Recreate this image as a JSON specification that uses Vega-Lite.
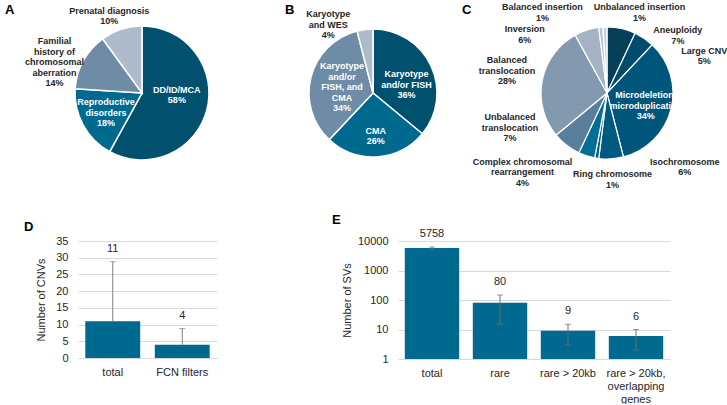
{
"$schema":"https://vega.github.io/schema/vega-lite/v6.json",
"autosize":{"type":"pad"},
"padding":{"left":5,"top":0,"right":0,"bottom":0},
"config":{"view":{"stroke":null},"text":{"font":"Liberation Sans","fontSize":9,"fontWeight":"bold","lineBreak":"\n","lineHeight":10.5},"title":{"font":"Liberation Sans","fontSize":13,"fontWeight":"bold","color":"black","anchor":"start","frame":"group"},"axis":{"labelFont":"Liberation Sans","titleFont":"Liberation Sans","labelColor":"#262626","titleColor":"#262626","labelFontSize":11,"titleFontSize":11,"titleFontWeight":"normal"},"axisY":{"grid":true,"gridColor":"#d9d9d9","gridWidth":1,"domain":false,"ticks":false,"labelPadding":10,"labelOverlap":false}},
"datasets":{
"pieA":[{"ord":1,"cat":"DD/ID/MCA","pct":58,"label":"DD/ID/MCA\n58%"},{"ord":2,"cat":"Reproductive disorders","pct":18,"label":"Reproductive\ndisorders\n18%"},{"ord":3,"cat":"Familial history of chromosomal aberration","pct":14,"label":"Familial\nhistory of\nchromosomal\naberration\n14%"},{"ord":4,"cat":"Prenatal diagnosis","pct":10,"label":"Prenatal diagnosis\n10%"}],
"pieB":[{"ord":1,"cat":"Karyotype and/or FISH","pct":36,"label":"Karyotype\nand/or FISH\n36%"},{"ord":2,"cat":"CMA","pct":26,"label":"CMA\n26%"},{"ord":3,"cat":"Karyotype and/or FISH, and CMA","pct":34,"label":"Karyotype\nand/or\nFISH, and\nCMA\n34%"},{"ord":4,"cat":"Karyotype and WES","pct":4,"label":"Karyotype\nand WES\n4%"}],
"pieC":[{"ord":1,"cat":"Aneuploidy","pct":7,"label":"Aneuploidy\n7%"},{"ord":2,"cat":"Large CNV","pct":5,"label":"Large CNV\n5%"},{"ord":3,"cat":"Microdeletion/microduplication","pct":34,"label":"Microdeletion/\nmicroduplication\n34%"},{"ord":4,"cat":"Isochromosome","pct":6,"label":"Isochromosome\n6%"},{"ord":5,"cat":"Ring chromosome","pct":1,"label":"Ring chromosome\n1%"},{"ord":6,"cat":"Complex chromosomal rearrangement","pct":4,"label":"Complex chromosomal\nrearrangement\n4%"},{"ord":7,"cat":"Unbalanced translocation","pct":7,"label":"Unbalanced\ntranslocation\n7%"},{"ord":8,"cat":"Balanced translocation","pct":28,"label":"Balanced\ntranslocation\n28%"},{"ord":9,"cat":"Inversion","pct":6,"label":"Inversion\n6%"},{"ord":10,"cat":"Balanced insertion","pct":1,"label":"Balanced insertion\n1%"},{"ord":11,"cat":"Unbalanced insertion","pct":1,"label":"Unbalanced insertion\n1%"}],
"barD":[{"cat":"total","v":11,"hi":28.8},{"cat":"FCN filters","v":4,"hi":8.8}],
"barE":[{"cat":"total","v":5758,"lo":5250,"hi":6300},{"cat":"rare","v":80,"lo":15,"hi":148},{"cat":"rare > 20kb","v":9,"lo":3,"hi":15},{"cat":"rare > 20kb, overlapping genes","v":6,"lo":2,"hi":10}]
},
"resolve":{"scale":{"color":"independent"}},
"spacing":23,
"vconcat":[
{"hconcat":[
{"width":128,"height":186,"data":{"name":"pieA"},
 "title":{"text":"A","dx":-73,"offset":-17},
 "encoding":{"theta":{"field":"pct","type":"quantitative","stack":true},"order":{"field":"ord","type":"quantitative"}},
 "layer":[
  {"mark":{"type":"arc","outerRadius":67,"stroke":"white","strokeWidth":1.5},"encoding":{"color":{"field":"cat","type":"nominal","legend":null,"scale":{"domain":["DD/ID/MCA","Reproductive disorders","Familial history of chromosomal aberration","Prenatal diagnosis"],"range":["#00506e","#006a8e","#6e8ca6","#adbbca"]}}}},
  {"mark":{"type":"text","radius":36,"dy":-12,"color":"white"},"encoding":{"text":{"condition":{"test":"datum.cat === 'DD/ID/MCA'","field":"label","type":"nominal"},"value":""}}},
  {"mark":{"type":"text","radius":41,"dy":-10.5,"color":"white"},"encoding":{"text":{"condition":{"test":"datum.cat === 'Reproductive disorders'","field":"label","type":"nominal"},"value":""}}},
  {"mark":{"type":"text","radius":60,"dx":-35,"dy":-23,"color":"#262626"},"encoding":{"text":{"condition":{"test":"datum.cat === 'Familial history of chromosomal aberration'","field":"label","type":"nominal"},"value":""}}},
  {"mark":{"type":"text","radius":80,"dx":-8,"dy":-6,"color":"#262626"},"encoding":{"text":{"condition":{"test":"datum.cat === 'Prenatal diagnosis'","field":"label","type":"nominal"},"value":""}}}
 ]},
{"width":334,"height":186,"data":{"name":"pieB"},
 "title":{"text":"B","dx":79,"offset":-17},
 "encoding":{"theta":{"field":"pct","type":"quantitative","stack":true},"order":{"field":"ord","type":"quantitative"}},
 "layer":[
  {"mark":{"type":"arc","outerRadius":64,"stroke":"white","strokeWidth":1.5},"encoding":{"color":{"field":"cat","type":"nominal","legend":null,"scale":{"domain":["Karyotype and/or FISH","CMA","Karyotype and/or FISH, and CMA","Karyotype and WES"],"range":["#00506e","#006a8e","#6e8ca6","#adbbca"]}}}},
  {"mark":{"type":"text","radius":36,"dx":1,"dy":-3.5,"color":"white"},"encoding":{"text":{"condition":{"test":"datum.cat === 'Karyotype and/or FISH'","field":"label","type":"nominal"},"value":""}}},
  {"mark":{"type":"text","radius":43,"dy":-5,"color":"white"},"encoding":{"text":{"condition":{"test":"datum.cat === 'CMA'","field":"label","type":"nominal"},"value":""}}},
  {"mark":{"type":"text","radius":32,"dy":-19,"color":"white"},"encoding":{"text":{"condition":{"test":"datum.cat === 'Karyotype and/or FISH, and CMA'","field":"label","type":"nominal"},"value":""}}},
  {"mark":{"type":"text","radius":69,"dx":-36,"dy":-10.5,"color":"#262626"},"encoding":{"text":{"condition":{"test":"datum.cat === 'Karyotype and WES'","field":"label","type":"nominal"},"value":""}}}
 ]},
{"width":134,"height":186,"data":{"name":"pieC"},
 "title":{"text":"C","dx":-78,"offset":-17},
 "encoding":{"theta":{"field":"pct","type":"quantitative","stack":true},"order":{"field":"ord","type":"quantitative"}},
 "layer":[
  {"mark":{"type":"arc","outerRadius":66,"stroke":"white","strokeWidth":1.2},"encoding":{"color":{"field":"cat","type":"nominal","legend":null,"scale":{"domain":["Aneuploidy","Large CNV","Microdeletion/microduplication","Isochromosome","Ring chromosome","Complex chromosomal rearrangement","Unbalanced translocation","Balanced translocation","Inversion","Balanced insertion","Unbalanced insertion"],"range":["#053f59","#004c6b","#00557a","#00597e","#00658b","#006f96","#5a7f9b","#8299b0","#a3b3c3","#b8c4d0","#ccd5de"]}}}},
  {"mark":{"type":"text","radius":59,"dx":58,"dy":-5,"color":"#262626"},"encoding":{"text":{"condition":{"test":"datum.cat === 'Aneuploidy'","field":"label","type":"nominal"},"value":""}}},
  {"mark":{"type":"text","radius":45,"dx":72,"dy":-5,"color":"#262626"},"encoding":{"text":{"condition":{"test":"datum.cat === 'Large CNV'","field":"label","type":"nominal"},"value":""}}},
  {"mark":{"type":"text","radius":40,"dy":-7.5,"color":"white"},"encoding":{"text":{"condition":{"test":"datum.cat === 'Microdeletion/microduplication'","field":"label","type":"nominal"},"value":""}}},
  {"mark":{"type":"text","radius":74,"dx":73,"dy":-5,"color":"#262626"},"encoding":{"text":{"condition":{"test":"datum.cat === 'Isochromosome'","field":"label","type":"nominal"},"value":""}}},
  {"mark":{"type":"text","radius":80,"dx":18,"dy":2,"color":"#262626"},"encoding":{"text":{"condition":{"test":"datum.cat === 'Ring chromosome'","field":"label","type":"nominal"},"value":""}}},
  {"mark":{"type":"text","radius":60,"dx":-66,"dy":11.5,"color":"#262626"},"encoding":{"text":{"condition":{"test":"datum.cat === 'Complex chromosomal rearrangement'","field":"label","type":"nominal"},"value":""}}},
  {"mark":{"type":"text","radius":44,"dx":-70,"dy":-10.5,"color":"#262626"},"encoding":{"text":{"condition":{"test":"datum.cat === 'Unbalanced translocation'","field":"label","type":"nominal"},"value":""}}},
  {"mark":{"type":"text","radius":50,"dx":-51,"dy":-23.5,"color":"#262626"},"encoding":{"text":{"condition":{"test":"datum.cat === 'Balanced translocation'","field":"label","type":"nominal"},"value":""}}},
  {"mark":{"type":"text","radius":62,"dx":-63,"dy":-5,"color":"#262626"},"encoding":{"text":{"condition":{"test":"datum.cat === 'Inversion'","field":"label","type":"nominal"},"value":""}}},
  {"mark":{"type":"text","radius":81,"dx":-57,"dy":-5,"color":"#262626"},"encoding":{"text":{"condition":{"test":"datum.cat === 'Balanced insertion'","field":"label","type":"nominal"},"value":""}}},
  {"mark":{"type":"text","radius":81,"dx":35,"dy":-5,"color":"#262626"},"encoding":{"text":{"condition":{"test":"datum.cat === 'Unbalanced insertion'","field":"label","type":"nominal"},"value":""}}}
 ]}
],"spacing":0,"bounds":"flush","resolve":{"scale":{"color":"independent"}}},
{"hconcat":[
{"width":139,"height":117,"data":{"name":"barD"},
 "title":{"text":"D","dx":-54,"offset":1},
 "encoding":{"x":{"field":"cat","type":"nominal","sort":null,"scale":{"paddingInner":0.21,"paddingOuter":0.105},"axis":{"title":null,"labelAngle":0,"ticks":false,"domainColor":"#d9d9d9","labelPadding":8}}},
 "layer":[
  {"mark":{"type":"bar","color":"#006990"},"encoding":{"y":{"field":"v","type":"quantitative","scale":{"domain":[0,35]},"axis":{"title":"Number of CNVs","values":[0,5,10,15,20,25,30,35],"titlePadding":9}}}},
  {"mark":{"type":"rule","color":"#808080","strokeWidth":1},"encoding":{"y":{"field":"v","type":"quantitative","scale":{"domain":[0,35]},"axis":{"title":"Number of CNVs","values":[0,5,10,15,20,25,30,35],"titlePadding":9}},"y2":{"field":"hi"}}},
  {"mark":{"type":"tick","orient":"horizontal","color":"#808080","size":6,"thickness":1},"encoding":{"y":{"field":"hi","type":"quantitative","scale":{"domain":[0,35]},"axis":{"title":"Number of CNVs","values":[0,5,10,15,20,25,30,35],"titlePadding":9}}}},
  {"mark":{"type":"text","dy":-13,"fontSize":11,"fontWeight":"normal","color":"#262626"},"encoding":{"y":{"field":"hi","type":"quantitative","scale":{"domain":[0,35]},"axis":{"title":"Number of CNVs","values":[0,5,10,15,20,25,30,35],"titlePadding":9}},"text":{"field":"v","type":"quantitative"}}}
 ]},
{"width":272,"height":118,"data":{"name":"barE"},
 "title":{"text":"E","dx":-66,"offset":1},
 "encoding":{"x":{"field":"cat","type":"nominal","sort":null,"scale":{"paddingInner":0.2,"paddingOuter":0.1},"axis":{"title":null,"labelAngle":0,"ticks":false,"domainColor":"#d9d9d9","labelPadding":8,"labelLineHeight":13,"labelExpr":"datum.label === 'rare > 20kb, overlapping genes' ? ['rare > 20kb,', 'overlapping', 'genes'] : datum.label"}}},
 "layer":[
  {"mark":{"type":"bar","color":"#006990"},"encoding":{"y":{"field":"v","type":"quantitative","stack":null,"scale":{"type":"log","domain":[1,10000]},"axis":{"title":"Number of SVs","values":[1,10,100,1000,10000],"format":"d","titlePadding":5}},"y2":{"datum":1}}},
  {"mark":{"type":"rule","color":"#6d6d6d","strokeWidth":1},"encoding":{"y":{"field":"lo","type":"quantitative","scale":{"type":"log","domain":[1,10000]},"axis":{"title":"Number of SVs","values":[1,10,100,1000,10000],"format":"d","titlePadding":5}},"y2":{"field":"hi"}}},
  {"mark":{"type":"tick","orient":"horizontal","color":"#6d6d6d","size":6,"thickness":1},"encoding":{"y":{"field":"hi","type":"quantitative","scale":{"type":"log","domain":[1,10000]},"axis":{"title":"Number of SVs","values":[1,10,100,1000,10000],"format":"d","titlePadding":5}}}},
  {"mark":{"type":"tick","orient":"horizontal","color":"#6d6d6d","size":6,"thickness":1},"encoding":{"y":{"field":"lo","type":"quantitative","scale":{"type":"log","domain":[1,10000]},"axis":{"title":"Number of SVs","values":[1,10,100,1000,10000],"format":"d","titlePadding":5}}}},
  {"mark":{"type":"text","dy":-13,"fontSize":11,"fontWeight":"normal","color":"#262626"},"encoding":{"y":{"field":"hi","type":"quantitative","scale":{"type":"log","domain":[1,10000]},"axis":{"title":"Number of SVs","values":[1,10,100,1000,10000],"format":"d","titlePadding":5}},"text":{"field":"v","type":"quantitative"}}}
 ]}
],"spacing":181,"bounds":"flush"}
]
}
